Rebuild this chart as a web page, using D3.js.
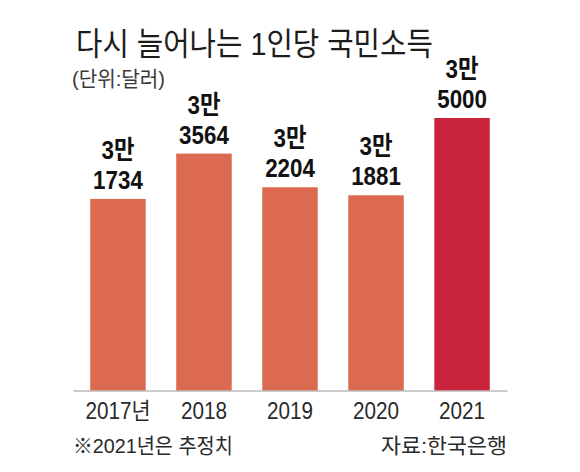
<!DOCTYPE html>
<html>
<head>
<meta charset="utf-8">
<script src="https://cdn.jsdelivr.net/npm/d3@7"></script>
<style>
  html, body { margin: 0; padding: 0; background: #ffffff; }
  svg { display: block; }
  text { font-family: "Liberation Sans", "Noto Sans CJK KR", sans-serif; }
</style>
</head>
<body>
<svg id="chart" width="580" height="472"></svg>
<script>
const years = ["2017", "2018", "2019", "2020", "2021"];
const values = [31734, 33564, 32204, 31881, 35000];
const labelTop = ["3만", "3만", "3만", "3만", "3만"];
const labelBottom = ["1734", "3564", "2204", "1881", "5000"];
const tickLabels = ["2017년", "2018", "2019", "2020", "2021"];
const estimated = [false, false, false, false, true];

const title = "다시 늘어나는 1인당 국민소득";
const unit = "(단위:달러)";
const note = "※2021년은 추정치";
const source = "자료:한국은행";

const svg = d3.select("#chart");
const baseY = 390.5;

const x = d3.scaleBand().domain(years).range([73, 507]).paddingInner(0.355).paddingOuter(0.2);
const y = d3.scaleLinear().domain([24000, 35000]).range([baseY, 118]);

// place a text so that it spans exactly `w` pixels horizontally (scaled, not spaced)
function fitText(sel, px, py, w, anchor) {
  const natural = sel.node().getComputedTextLength();
  const k = w / natural;
  sel.attr("text-anchor", anchor || "start")
    .attr("transform", `translate(${px},${py}) scale(${k},1)`);
  return sel;
}

// title
fitText(svg.append("text")
  .attr("font-family", "'Noto Sans CJK KR', sans-serif")
  .attr("font-size", 32).attr("fill", "#1c1c1c")
  .text(title), 76, 55, 357);

fitText(svg.append("text")
  .attr("font-family", "'Noto Sans CJK KR', sans-serif")
  .attr("font-size", 21).attr("fill", "#3a3a3a")
  .text(unit), 72, 86, 93);

// bars
svg.append("g").selectAll("rect").data(years).join("rect")
  .attr("x", d => x(d))
  .attr("width", x.bandwidth())
  .attr("y", (d, i) => y(values[i]))
  .attr("height", (d, i) => baseY - y(values[i]))
  .attr("fill", (d, i) => estimated[i] ? "#c9243b" : "#dc6a51");

// value labels
const lab = svg.append("g").attr("fill", "#111").attr("font-weight", "bold").attr("font-size", 26);
years.forEach((d, i) => {
  const cx = x(d) + x.bandwidth() / 2;
  const top = y(values[i]);
  lab.append("text").attr("text-anchor", "middle")
    .attr("transform", `translate(${cx},${top - 40}) scale(0.86,1)`)
    .text(labelTop[i]);
  lab.append("text").attr("text-anchor", "middle")
    .attr("transform", `translate(${cx},${top - 10}) scale(0.86,1)`)
    .text(labelBottom[i]);
});

// axis
const axis = svg.append("g").attr("transform", `translate(0,${baseY})`)
  .call(d3.axisBottom(x).tickSize(0).tickSizeOuter(0).tickFormat((d, i) => tickLabels[i]));
axis.select(".domain").attr("stroke", "#9a9a9a").attr("stroke-width", 1.2);
axis.selectAll(".tick text")
  .attr("font-family", "'Liberation Sans', 'Noto Sans CJK KR', sans-serif")
  .attr("font-size", 23).attr("fill", "#2a2a2a")
  .attr("y", 0).attr("dy", 0)
  .attr("transform", "translate(0,28) scale(0.9,1)");

// footer
fitText(svg.append("text")
  .attr("font-size", 21).attr("fill", "#2a2a2a")
  .text(note), 73, 453, 160);
fitText(svg.append("text")
  .attr("font-size", 21).attr("fill", "#2a2a2a")
  .text(source), 507, 453, 126, "end");
</script>
</body>
</html>
